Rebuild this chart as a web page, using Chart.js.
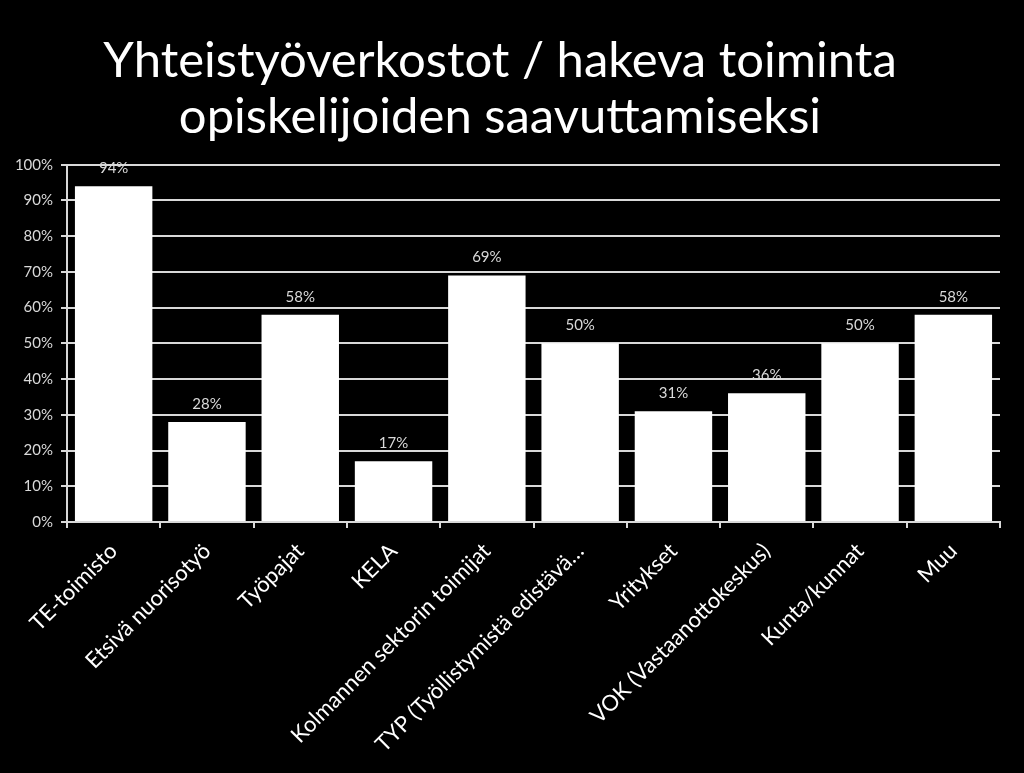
<!DOCTYPE html>
<html>
<head>
<meta charset="utf-8">
<script src="https://cdn.jsdelivr.net/npm/chart.js@4"></script>
<style>
  html, body { margin: 0; padding: 0; background: #000; }
  #wrap { width: 1024px; height: 773px; }
</style>
</head>
<body>
<div id="wrap"><canvas id="myChart-bar"></canvas></div>
<script>
const categories = [
  "TE-toimisto",
  "Etsivä nuorisotyö",
  "Työpajat",
  "KELA",
  "Kolmannen sektorin toimijat",
  "TYP (Työllistymistä edistävä…",
  "Yritykset",
  "VOK (Vastaanottokeskus)",
  "Kunta/kunnat",
  "Muu",
];
const values = [94, 28, 58, 17, 69, 50, 31, 36, 50, 58];
const titleLines = [
  "Yhteistyöverkostot / hakeva toiminta",
  "opiskelijoiden saavuttamiseksi",
];

// arvot pylväiden yläpuolelle
const valueLabels = {
  id: "value-labels",
  afterDatasetsDraw: function (chart) {
    const ctx = chart.ctx;
    const meta = chart.getDatasetMeta(0);
    ctx.save();
    ctx.font = "15px Lato";
    ctx.fillStyle = "#d9d9d9";
    ctx.textAlign = "center";
    ctx.textBaseline = "middle";
    meta.data.forEach(function (bar, i) {
      ctx.fillText(values[i] + "%", bar.x, bar.y - 18);
    });
    ctx.restore();
  },
};

const ctx = document.getElementById("myChart-bar").getContext("2d");
const myChart = new Chart(ctx, {
  type: "bar",
  data: {
    labels: categories,
    datasets: [
      {
        data: values,
        backgroundColor: "#ffffff",
        borderWidth: 0,
        barPercentage: 0.83,
        categoryPercentage: 1,
      },
    ],
  },
  options: {
    responsive: true,
    maintainAspectRatio: false,
    animation: false,
    layout: {
      padding: { left: 0, right: 24, top: 0, bottom: 0 },
    },
    scales: {
      x: {
        grid: {
          offset: true,
          drawOnChartArea: false,
          drawTicks: true,
          tickLength: 6,
          color: "#d9d9d9",
          lineWidth: 2,
        },
        border: { color: "#d9d9d9", width: 2 },
        ticks: {
          color: "#ffffff",
          font: { family: "Lato", size: 22 },
          minRotation: 45,
          maxRotation: 45,
          autoSkip: false,
          padding: 10,
        },
        afterFit: function (scale) {
          scale.height = 251;
        },
      },
      y: {
        min: 0,
        max: 100,
        grid: {
          color: "#d9d9d9",
          lineWidth: 2,
          tickLength: 6,
        },
        border: { color: "#d9d9d9", width: 2 },
        ticks: {
          stepSize: 10,
          color: "#d9d9d9",
          font: { family: "Lato", size: 15 },
          padding: 8,
          callback: function (v) {
            return v + "%";
          },
        },
        afterFit: function (scale) {
          scale.width = 67;
        },
      },
    },
    plugins: {
      legend: { display: false },
      tooltip: { enabled: false },
      title: {
        display: true,
        text: titleLines,
        color: "#ffffff",
        font: { family: "Lato", size: 49, weight: "normal", lineHeight: 1.15 },
        padding: { top: 33, bottom: 19 },
      },
    },
  },
  plugins: [valueLabels],
});
</script>
</body>
</html>
